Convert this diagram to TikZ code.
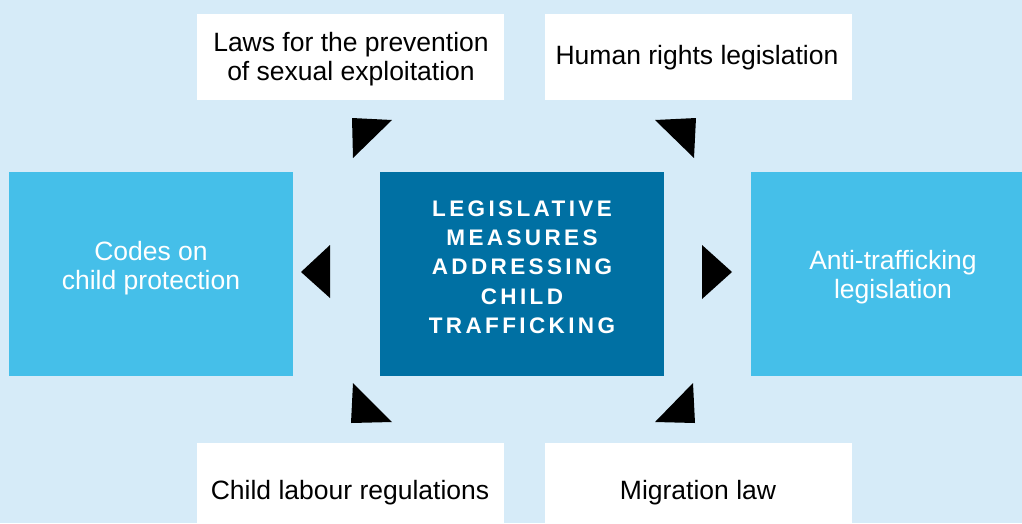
\documentclass[tikz,border=0pt]{standalone}
\usepackage{fontspec}
\setmainfont{Liberation Sans}
\definecolor{bgblue}{HTML}{D6EBF8}
\definecolor{cyanbox}{HTML}{45BFE9}
\definecolor{darkbox}{HTML}{0070A3}
\begin{document}
\begin{tikzpicture}[x=1pt,y=-1pt,
  boxtext/.style={align=center,font=\fontsize{26.5}{29}\selectfont},
  arrowtri/.style={fill=black,draw=none}]
\fill[bgblue] (0,0) rectangle (1022,523);
\useasboundingbox (0,0) rectangle (1022,523);
% boxes
\fill[white] (197,14) rectangle (504,100);
\fill[white] (545,14) rectangle (852,100);
\fill[cyanbox] (9,172) rectangle (293,376);
\fill[darkbox] (380,172) rectangle (664,376);
\fill[cyanbox] (751,172) rectangle (1022,376);
\fill[white] (197,443) rectangle (504,523);
\fill[white] (545,443) rectangle (852,523);
% texts
\node[boxtext,text=black] (laws) at (351,59) {Laws for the prevention\\of sexual exploitation};
\node[boxtext,text=black] (human) at (697,58) {Human rights legislation};
\node[boxtext,text=white] (codes) at (151,268) {Codes on\\child protection};
\node[boxtext,text=white] (anti) at (893,277) {Anti-trafficking\\legislation};
\node[boxtext,text=black] (labour) at (350,493) {Child labour regulations};
\node[boxtext,text=black] (migr) at (698,493) {Migration law};
\node[align=center,text=white,font=\fontsize{22.5}{29.3}\selectfont\bfseries\addfontfeatures{LetterSpace=15}] (center) at (522,267) {LEGISLATIVE\\MEASURES\\ADDRESSING\\CHILD\\TRAFFICKING};
% arrowheads
\fill[arrowtri] (352,118) -- (392,120) -- (353,158) -- cycle;
\fill[arrowtri] (655,120) -- (696,118) -- (694,158) -- cycle;
\fill[arrowtri] (330,245) -- (301,272) -- (330,298) -- cycle;
\fill[arrowtri] (702,245) -- (732,272) -- (702,299) -- cycle;
\fill[arrowtri] (353,383) -- (392,422) -- (351,423) -- cycle;
\fill[arrowtri] (693,383) -- (695,423) -- (655,422) -- cycle;
\end{tikzpicture}
\end{document}
